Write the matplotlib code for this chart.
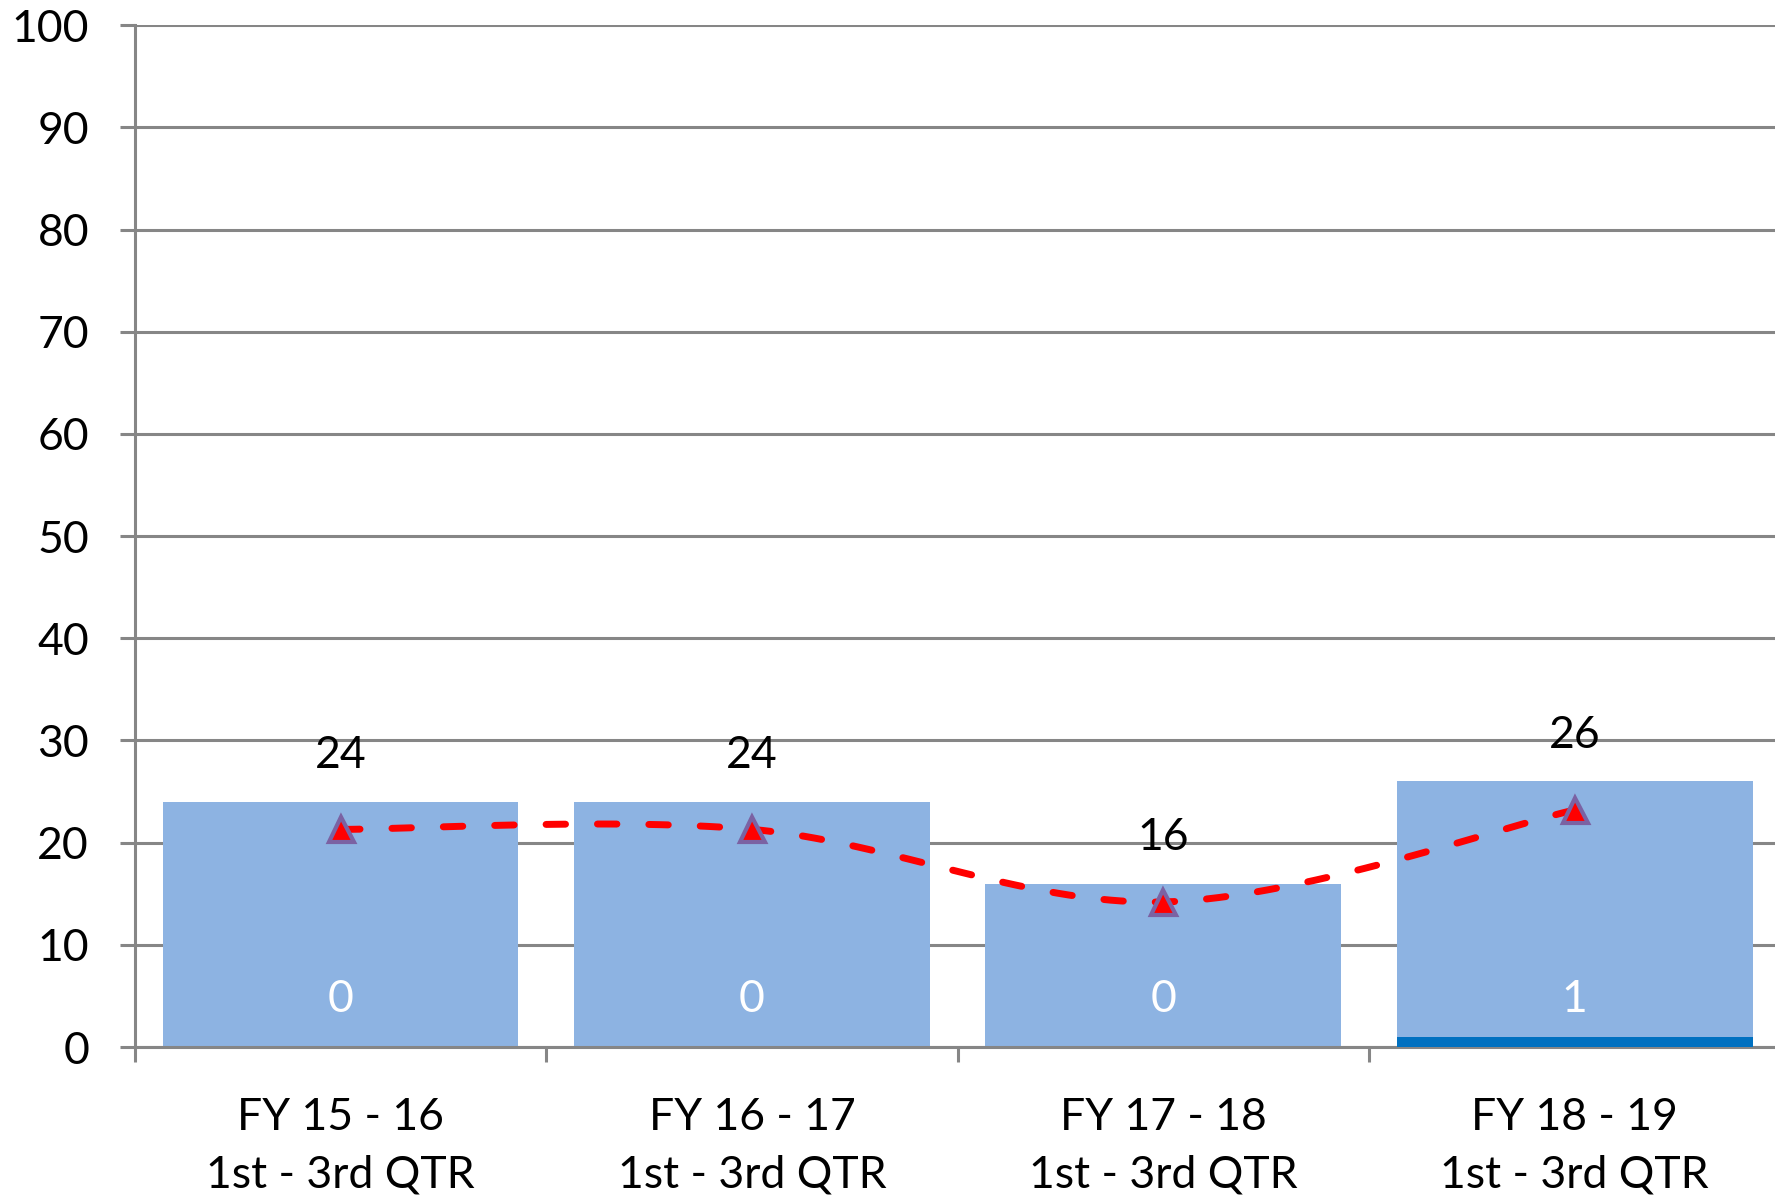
import numpy as np
import matplotlib.pyplot as plt

categories = ["FY 15 - 16\n1st - 3rd QTR", "FY 16 - 17\n1st - 3rd QTR",
              "FY 17 - 18\n1st - 3rd QTR", "FY 18 - 19\n1st - 3rd QTR"]
totals = [24, 24, 16, 26]
inner = [0, 0, 0, 1]
trend = [21.3, 21.3, 14.2, 23.2]


def smooth(xs, ys, n=40):
    # Catmull-Rom through the points, like the spreadsheet "smoothed line"
    px = [xs[0]] + list(xs) + [xs[-1]]
    py = [ys[0]] + list(ys) + [ys[-1]]
    ox, oy = [], []
    for i in range(1, len(px) - 2):
        t = np.linspace(0, 1, n)
        for p, out in ((px, ox), (py, oy)):
            p0, p1, p2, p3 = p[i - 1], p[i], p[i + 1], p[i + 2]
            out.extend(0.5 * (2 * p1 + (-p0 + p2) * t
                              + (2 * p0 - 5 * p1 + 4 * p2 - p3) * t ** 2
                              + (-p0 + 3 * p1 - 3 * p2 + p3) * t ** 3))
    return np.array(ox), np.array(oy)


plt.rcParams["font.family"] = ["Lato", "DejaVu Sans"]
fig = plt.figure(figsize=(17.75, 11.98), dpi=100)
ax = fig.add_axes([0.076, 0.126, 0.927, 0.853])

x = np.arange(len(categories))
grid_c = "#868686"
fs = 32

ax.bar(x, totals, width=0.865, color="#8DB3E2", zorder=2)
ax.bar(x, inner, width=0.865, color="#0070C0", zorder=3)

sx, sy = smooth(x, trend)
ax.plot(sx, sy, color="red", lw=5, linestyle=(0, (2.8, 4.6)),
        dash_capstyle="round", zorder=4)
ax.plot(x, trend, linestyle="none", marker="^", ms=18, mfc="red",
        mec="#7B62A3", mew=3, zorder=5)

for xi, v in zip(x, totals):
    ax.text(xi, v + 4.5, str(v), ha="center", va="center", fontsize=fs, color="black")
for xi, v in zip(x, inner):
    ax.text(xi, 4.7, str(v), ha="center", va="center", fontsize=fs, color="white", zorder=6)

ax.set_xlim(-0.5, len(categories) - 0.5)
ax.set_ylim(0, 100)
ax.set_yticks(range(0, 101, 10))
ax.yaxis.grid(True, color=grid_c, lw=2.2, zorder=0)
ax.set_axisbelow(True)

ax.set_xticks(x)
ax.set_xticklabels(categories, fontsize=fs, linespacing=1.5)
ax.set_xticks(np.arange(-0.5, len(categories), 1.0), minor=True)
ax.tick_params(axis="x", which="major", length=0, pad=36)
ax.tick_params(axis="x", which="minor", length=11, width=2.2, color=grid_c)
ax.tick_params(axis="y", length=11, width=2.2, color=grid_c, labelsize=fs, pad=22)

for s in ["top", "right"]:
    ax.spines[s].set_visible(False)
for s in ["left", "bottom"]:
    ax.spines[s].set_color(grid_c)
    ax.spines[s].set_linewidth(2.2)

fig.savefig("out.png", dpi=100)
